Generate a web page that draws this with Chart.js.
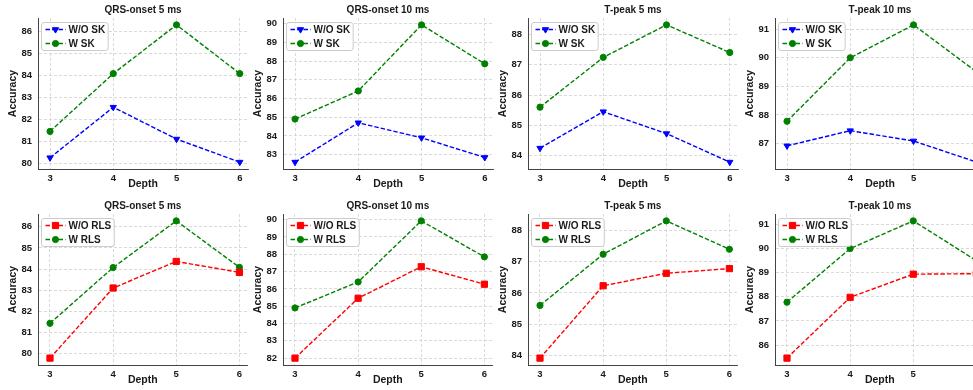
<!DOCTYPE html>
<html>
<head>
<meta charset="utf-8">
<script src="https://cdn.jsdelivr.net/npm/chart.js@4.4.1/dist/chart.umd.min.js"></script>
<style>
    html, body { margin: 0; padding: 0; background: #fff; overflow: hidden; }
    #figure { position: relative; width: 973px; height: 390px; overflow: hidden; background: #fff; }
    #figure canvas { position: absolute; }
</style>
</head>
<body>
<div id="figure"></div>
<script>
// Depth on the x axis
const depths = [3, 4, 5, 6];

// Panel titles, left to right
const panelTitles = ['QRS-onset 5 ms', 'QRS-onset 10 ms', 'T-peak 5 ms', 'T-peak 10 ms'];

// Top row: accuracy without / with SK (one list per panel)
const woSK = [
    [80.25, 82.55, 81.10, 80.05],
    [82.60, 84.70, 83.90, 82.85],
    [84.25, 85.45, 84.73, 83.79],
    [86.92, 87.45, 87.09, 86.35]
];
const wSK = [
    [81.45, 84.08, 86.30, 84.08],
    [84.90, 86.40, 89.93, 87.85],
    [85.60, 87.24, 88.31, 87.40],
    [87.78, 90.00, 91.15, 89.50]
];

// Bottom row: accuracy without / with RLS
const woRLS = [
    [79.78, 83.10, 84.36, 83.84],
    [82.00, 85.46, 87.28, 86.27],
    [83.91, 86.23, 86.63, 86.78],
    [85.46, 87.98, 88.94, 88.96]
];
const wRLS = [
    [81.43, 84.07, 86.28, 84.08],
    [84.90, 86.40, 89.93, 87.85],
    [85.60, 87.24, 88.31, 87.40],
    [87.78, 90.00, 91.15, 89.50]
];

const FONT = '"Liberation Sans", Arial, Helvetica, sans-serif';
const TEXT_COLOR = '#1a1a1a';

Chart.defaults.font.family = FONT;
Chart.defaults.color = TEXT_COLOR;

// Line + marker styles
const STYLES = {
    wo_sk:  { color: '#0000ff', pointStyle: 'triangle', rotation: 180, radius: 3.6 },
    wo_rls: { color: '#ff0000', pointStyle: 'rect', rotation: 0, radius: 4.4 },
    w:      { color: '#008000', pointStyle: 'circle', rotation: 0, radius: 3.1 }
};

// Legend drawn in a framed box at the top-left of the plot area
const boxLegend = {
    id: 'boxLegend',
    afterDatasetsDraw(chart) {
        const ctx = chart.ctx;
        const area = chart.chartArea;
        const sets = chart.data.datasets;

        ctx.save();
        ctx.font = 'bold 10px ' + FONT;
        const textW = Math.max(...sets.map(ds => ctx.measureText(ds.label).width));
        const x0 = area.left + 3.5;
        const y0 = area.top + 4.5;
        const w = 27 + textW + 3;
        const h = 28;

        ctx.beginPath();
        ctx.roundRect(x0, y0, w, h, 2.5);
        ctx.fillStyle = 'rgba(255,255,255,0.85)';
        ctx.fill();
        ctx.strokeStyle = '#cccccc';
        ctx.lineWidth = 1;
        ctx.stroke();

        sets.forEach((ds, i) => {
            const y = y0 + 7 + i * 14;
            ctx.beginPath();
            ctx.setLineDash(ds.borderDash);
            ctx.strokeStyle = ds.borderColor;
            ctx.lineWidth = ds.borderWidth;
            ctx.moveTo(x0 + 4, y);
            ctx.lineTo(x0 + 24, y);
            ctx.stroke();
            ctx.setLineDash([]);

            ctx.fillStyle = ds.pointBackgroundColor;
            ctx.strokeStyle = ds.pointBorderColor;
            ctx.lineWidth = 1;
            Chart.helpers.drawPoint(ctx, {
                pointStyle: ds.pointStyle,
                radius: ds.pointRadius,
                rotation: ds.pointRotation,
                borderWidth: 1
            }, x0 + 14, y);

            ctx.fillStyle = TEXT_COLOR;
            ctx.textAlign = 'left';
            ctx.textBaseline = 'middle';
            ctx.fillText(ds.label, x0 + 27, y + 0.5);
        });
        ctx.restore();
    }
};

// Build a dataset from values and a style key
function makeDataset(label, values, styleKey) {
    const s = STYLES[styleKey];
    return {
        label: label,
        data: depths.map((d, i) => ({ x: d, y: values[i] })),
        borderColor: s.color,
        backgroundColor: s.color,
        borderWidth: 1.4,
        borderDash: [4.5, 2],
        pointStyle: s.pointStyle,
        pointRotation: s.rotation,
        pointRadius: s.radius,
        pointBackgroundColor: s.color,
        pointBorderColor: s.color,
        pointBorderWidth: 1,
        tension: 0,
        clip: false
    };
}

// Y limits like matplotlib autoscale (5% margin)
function yLimits(a, b) {
    const all = a.concat(b);
    const lo = Math.min(...all);
    const hi = Math.max(...all);
    const m = (hi - lo) * 0.05;
    return { min: lo - m, max: hi + m };
}

const PANEL_LEFT = [0, 245, 490, 737];
const ROW_TOP = [0, 196];

function createPanel(row, col, datasets, lims) {
    const canvas = document.createElement('canvas');
    canvas.width = 253;
    canvas.height = 195;
    canvas.style.left = PANEL_LEFT[col] + 'px';
    canvas.style.top = ROW_TOP[row] + 'px';
    document.getElementById('figure').appendChild(canvas);

    const gridStyle = {
        color: '#d0d0d0',
        lineWidth: 0.8,
        drawTicks: false
    };
    // border.dash dashes the grid lines in Chart.js v4
    const borderStyle = { display: true, color: '#444', width: 1, dash: [3, 2] };

    return new Chart(canvas.getContext('2d'), {
        type: 'line',
        data: { datasets: datasets },
        options: {
            responsive: false,
            animation: false,
            devicePixelRatio: 1,
            layout: { padding: { left: 0, top: 0, right: 1, bottom: 0 } },
            plugins: {
                legend: { display: false },
                tooltip: { enabled: false },
                title: {
                    display: true,
                    text: panelTitles[col],
                    fullSize: false,
                    color: TEXT_COLOR,
                    font: { size: 10, weight: 'bold' },
                    padding: { top: 4, bottom: 2 }
                }
            },
            scales: {
                x: {
                    type: 'linear',
                    min: 2.81,
                    max: 6.13,
                    afterBuildTicks: scale => {
                        scale.ticks = depths.map(v => ({ value: v }));
                    },
                    afterFit: scale => { scale.height = 26; },
                    grid: gridStyle,
                    border: borderStyle,
                    ticks: {
                        padding: 4,
                        color: TEXT_COLOR,
                        font: { size: 9.5, weight: 'bold' }
                    },
                    title: {
                        display: true,
                        text: 'Depth',
                        color: TEXT_COLOR,
                        font: { size: 10.5, weight: 'bold' },
                        padding: { top: 0, bottom: 5 }
                    }
                },
                y: {
                    min: lims.min,
                    max: lims.max,
                    afterBuildTicks: scale => {
                        const t = [];
                        for (let v = Math.ceil(lims.min); v <= lims.max; v++) t.push({ value: v });
                        scale.ticks = t;
                    },
                    afterFit: scale => { scale.width = 38; },
                    grid: gridStyle,
                    border: borderStyle,
                    ticks: {
                        padding: 6,
                        color: TEXT_COLOR,
                        font: { size: 9.5, weight: 'bold' }
                    },
                    title: {
                        display: true,
                        text: 'Accuracy',
                        color: TEXT_COLOR,
                        font: { size: 10.5, weight: 'bold' },
                        padding: { top: 7, bottom: 0 }
                    }
                }
            }
        },
        plugins: [boxLegend]
    });
}

for (let c = 0; c < 4; c++) {
    createPanel(0, c, [
        makeDataset('W/O SK', woSK[c], 'wo_sk'),
        makeDataset('W SK', wSK[c], 'w')
    ], yLimits(woSK[c], wSK[c]));

    createPanel(1, c, [
        makeDataset('W/O RLS', woRLS[c], 'wo_rls'),
        makeDataset('W RLS', wRLS[c], 'w')
    ], yLimits(woRLS[c], wRLS[c]));
}
</script>
</body>
</html>
